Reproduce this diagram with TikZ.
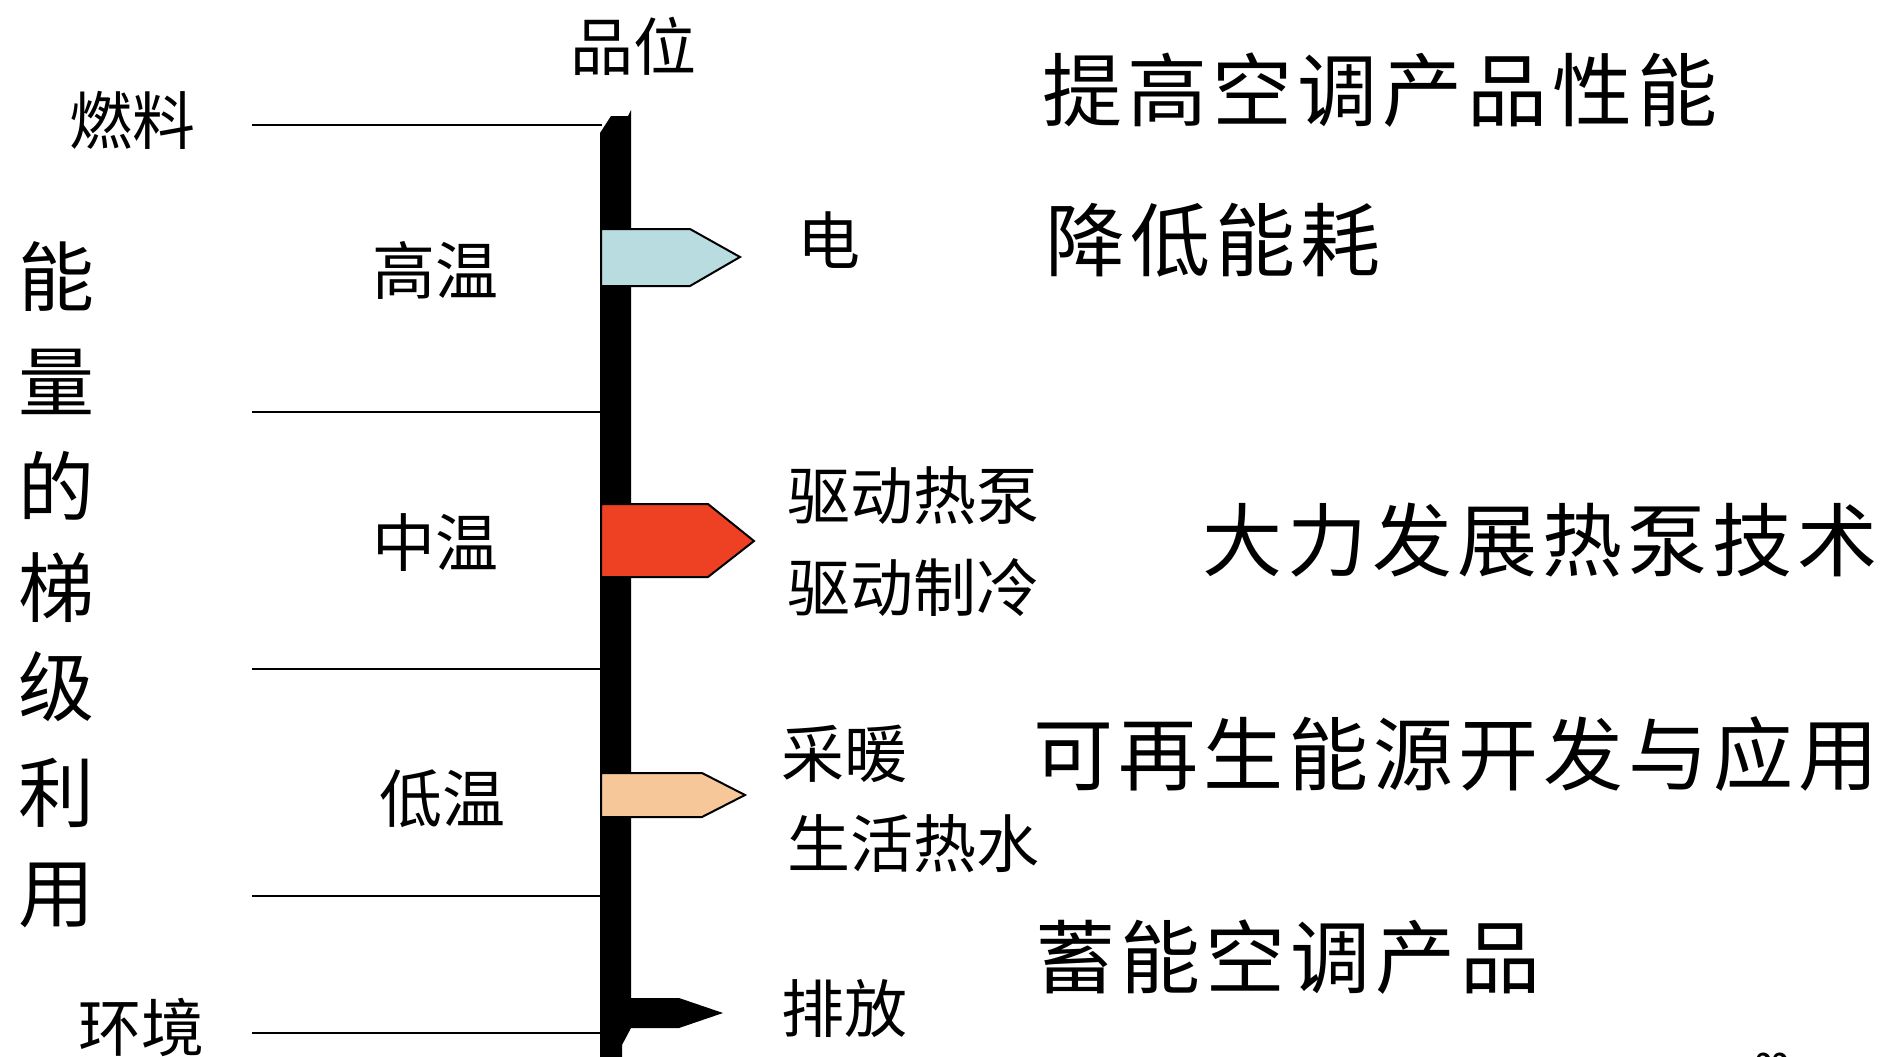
\documentclass[tikz,border=0pt]{standalone}
\usepackage{fontspec}
\newfontfamily\cjk{Noto Sans CJK SC}
\newcommand\gp{\kern5pt}
\definecolor{elecblue}{HTML}{B9DCE0}
\definecolor{midred}{HTML}{EE4023}
\definecolor{lowpeach}{HTML}{F6C899}
\begin{document}
\begin{tikzpicture}[x=1pt,y=-1pt,
  level/.style={line width=2pt,draw=black},
  flag/.style={draw=black,line width=2pt,line join=miter},
  big/.style={font=\cjk\fontsize{80}{80}\selectfont,inner sep=0pt},
  mid/.style={font=\cjk\fontsize{63}{63}\selectfont,inner sep=0pt},
  vert/.style={font=\cjk\fontsize{76}{76}\selectfont,inner sep=0pt}]
\clip (0,0) rectangle (1883,1057);
\useasboundingbox (0,0) rectangle (1883,1057);
% level lines
\coordinate (f0) at (252,125);  \coordinate (f1) at (602,125);
\coordinate (h0) at (252,412);  \coordinate (h1) at (602,412);
\coordinate (m0) at (252,669);  \coordinate (m1) at (602,669);
\coordinate (l0) at (252,896);  \coordinate (l1) at (602,896);
\coordinate (e0) at (252,1033); \coordinate (e1) at (602,1033);
\draw[level] (f0) -- (f1);
\draw[level] (h0) -- (h1);
\draw[level] (m0) -- (m1);
\draw[level] (l0) -- (l1);
\draw[level] (e0) -- (e1);
% bar
\fill[black] (600,133) -- (611,116) -- (628,116) -- (631,110) -- (631,1028)
  -- (622,1045) -- (622,1060) -- (600,1060) -- cycle;
% flags
\filldraw[flag,fill=elecblue] (601,229) -- (690,229) -- (740,257) -- (690,286) -- (601,286) -- cycle;
\filldraw[flag,fill=midred] (601,504) -- (708,504) -- (754,541) -- (708,577) -- (601,577) -- cycle;
\filldraw[flag,fill=lowpeach] (601,773) -- (702,773) -- (745,795) -- (702,817) -- (601,817) -- cycle;
\fill[black] (601,998) -- (679,998) -- (723,1013) -- (679,1028) -- (601,1028) -- cycle;
% labels
\node[mid] (pinwei) at (633,46) {品位};
\node[mid] (fuel) at (132,120) {燃料};
\node[mid] (env) at (141,1027) {环境};
\node[mid] (high) at (435,270) {高温};
\node[mid] (medium) at (435,543) {中温};
\node[mid] (low) at (442,799) {低温};
\node[vert] (v1) at (56,277) {能};
\node[vert] (v2) at (56,382) {量};
\node[vert] (v3) at (56,486) {的};
\node[vert] (v4) at (56,588) {梯};
\node[vert] (v5) at (56,687) {级};
\node[vert] (v6) at (56,793) {利};
\node[vert] (v7) at (56,895) {用};
\node[mid] (elec) at (829,240) {电};
\node[mid,anchor=west] (hp) at (787,496) {驱动热泵};
\node[mid,anchor=west] (cool) at (787,588) {驱动制冷};
\node[mid,anchor=west] (heat) at (781,754) {采暖};
\node[mid,anchor=west] (water) at (787,844) {生活热水};
\node[mid,anchor=west] (exhaust) at (781,1009) {排放};
\node[big,anchor=west] (t1) at (1042,90) {提\gp 高\gp 空\gp 调\gp 产\gp 品\gp 性\gp 能};
\node[big,anchor=west] (t2) at (1045,240) {降\gp 低\gp 能\gp 耗};
\node[big,anchor=west] (t3) at (1202,540) {大\gp 力\gp 发\gp 展\gp 热\gp 泵\gp 技\gp 术};
\node[big,anchor=west] (t4) at (1033,754) {可\gp 再\gp 生\gp 能\gp 源\gp 开\gp 发\gp 与\gp 应\gp 用};
\node[big,anchor=west] (t5) at (1035,957) {蓄\gp 能\gp 空\gp 调\gp 产\gp 品};
\node[font=\sffamily\bfseries\fontsize{30}{30}\selectfont,anchor=north,inner sep=0pt] (pg) at (1772,1053) {22};
\end{tikzpicture}
\end{document}
